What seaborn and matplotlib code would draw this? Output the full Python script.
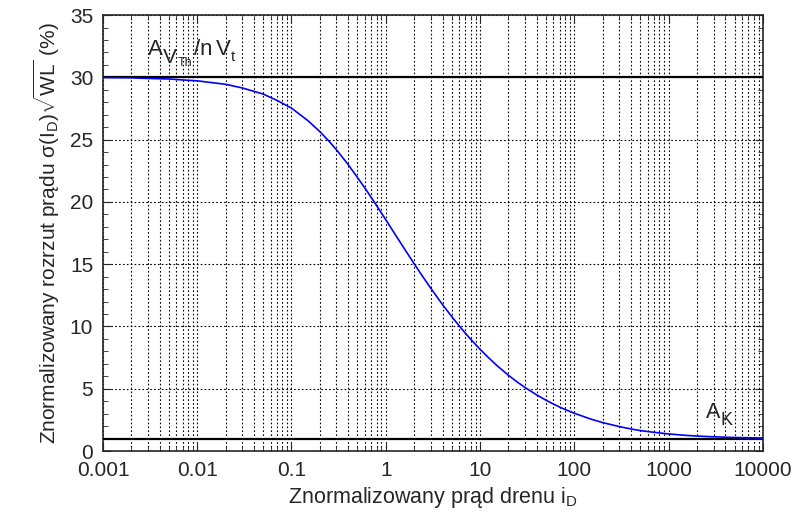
import numpy as np
import pandas as pd
import matplotlib
matplotlib.use("Agg")
import matplotlib.pyplot as plt
import seaborn as sns
from matplotlib.ticker import LogLocator, FixedLocator, MultipleLocator, NullFormatter

# ---- data ----
i_d = [0.001, 0.002, 0.003, 0.005, 0.007, 0.01, 0.02, 0.03, 0.05, 0.07, 0.1,
       0.15, 0.2, 0.25, 0.3, 0.4, 0.5, 0.6, 0.75, 1, 1.25, 1.5, 2, 2.5, 3, 4,
       5, 6, 7, 8, 10, 12, 15, 20, 25, 30, 40, 50, 60, 75, 100, 150, 200,
       300, 400, 500, 700, 1000, 1500, 2000, 3000, 5000, 10000]
sigma = [29.98, 29.96, 29.91, 29.87, 29.79, 29.72, 29.44, 29.15, 28.66, 28.15,
         27.53, 26.51, 25.64, 24.87, 24.18, 22.99, 21.96, 21.12, 20.02, 18.57,
         17.42, 16.49, 15.03, 13.94, 13.07, 11.75, 10.80, 10.05, 9.45, 8.95,
         8.17, 7.57, 6.88, 6.08, 5.52, 5.10, 4.50, 4.08, 3.77, 3.42, 3.03,
         2.56, 2.28, 1.96, 1.77, 1.64, 1.50, 1.37, 1.26, 1.20, 1.14, 1.085,
         1.045]
a_vth_level = 30.0
a_k_level = 1.0
x_ticks = [0.001, 0.01, 0.1, 1, 10, 100, 1000, 10000]
x_tick_labels = ["0.001", "0.01", "0.1", "1", "10", "100", "1000", "10000"]
y_ticks = [0, 5, 10, 15, 20, 25, 30, 35]

df = pd.DataFrame({"i_d": i_d, "sigma": sigma})

sns.set_style("ticks")
plt.rcParams["font.family"] = ["Liberation Sans", "DejaVu Sans"]
plt.rcParams["mathtext.fontset"] = "custom"
plt.rcParams["mathtext.rm"] = "Liberation Sans"
plt.rcParams["mathtext.it"] = "Liberation Sans"
plt.rcParams["mathtext.bf"] = "Liberation Sans:bold"

fig = plt.figure(figsize=(7.98, 5.19), dpi=100)
ax = fig.add_axes([0.129, 0.131, 0.827, 0.840])

sns.lineplot(data=df, x="i_d", y="sigma", ax=ax, color="#0000ff", lw=1.2,
             zorder=4)
ax.axhline(a_vth_level, color="black", lw=1.6, zorder=3)
ax.axhline(a_k_level, color="black", lw=1.6, zorder=3)

ax.set_xscale("log")
ax.set_xlim(0.001, 10000)
ax.set_ylim(0, 35)
ax.xaxis.set_major_locator(FixedLocator(x_ticks))
ax.set_xticklabels(x_tick_labels)
ax.xaxis.set_minor_locator(LogLocator(base=10, subs=np.arange(2, 10), numticks=100))
ax.xaxis.set_minor_formatter(NullFormatter())
ax.set_yticks(y_ticks)
ax.yaxis.set_minor_locator(MultipleLocator(1))

ax.grid(which="major", axis="both", color="black", linestyle=(0, (1.5, 2)), lw=0.8)
ax.grid(which="minor", axis="x", color="black", linestyle=(0, (1.5, 2)), lw=0.8)

ax.tick_params(which="both", direction="in", top=True, right=True)
ax.tick_params(which="major", length=6, labelsize=15, pad=7)
ax.tick_params(which="minor", length=3.5)
for s in ax.spines.values():
    s.set_linewidth(1.2)

ax.set_xlabel(r"Znormalizowany prąd drenu i$_\mathrm{D}$", fontsize=15.5, labelpad=4)
ax.set_ylabel(r"Znormalizowany rozrzut prądu σ(I$_\mathrm{D}$)$\sqrt{\mathrm{WL}}$ (%)",
              fontsize=15, labelpad=6)


def label_pieces(x, y, pieces):
    # pieces: (dx_px, dy_px, text, size); 1 px = 0.72 pt at 100 dpi
    for dx, dy, txt, size in pieces:
        ax.annotate(txt, xy=(x, y), xycoords="data",
                    xytext=(dx * 0.72, dy * 0.72), textcoords="offset points",
                    fontsize=size, ha="left", va="baseline", annotation_clip=False)


label_pieces(0.0030, 31.8, [(0, 0, "A", 16), (15, -8, "V", 15), (29.5, -11, "Th", 9),
                            (46, 0, "/n", 16), (68, 0, "V", 16), (83, -6.5, "t", 11)])
label_pieces(2500, 2.62, [(0, 0, "A", 15.5), (14, -7, "K", 13)])

fig.savefig("out.png", dpi=100)
